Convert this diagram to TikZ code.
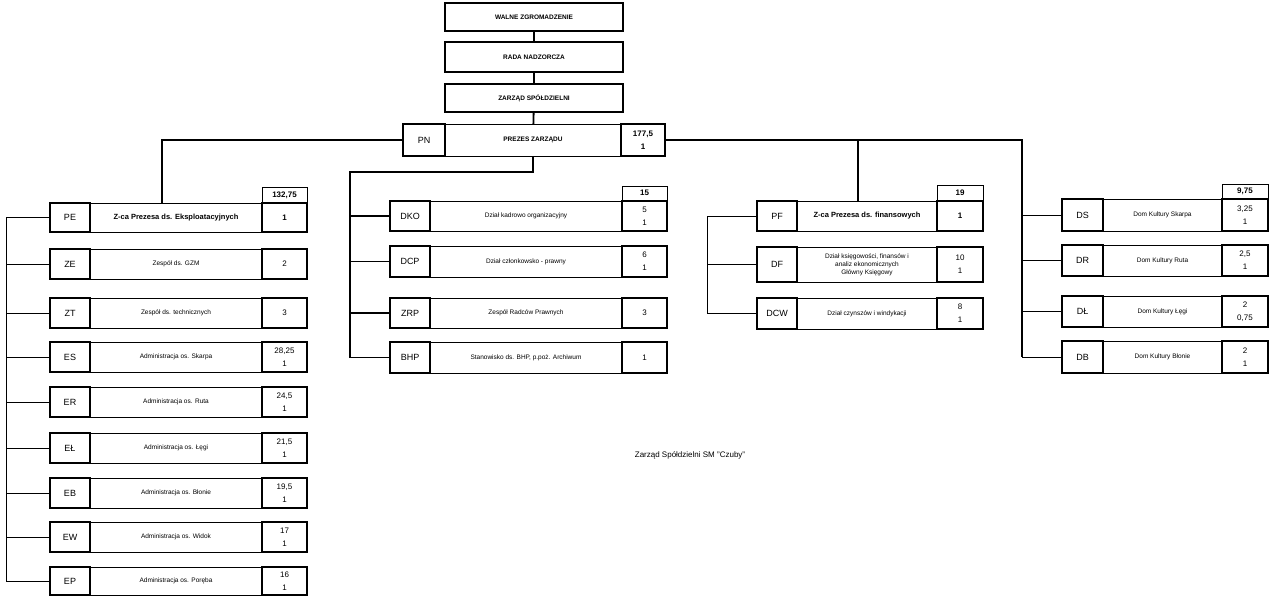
\documentclass[tikz,border=0pt]{standalone}
\usepackage{fontspec}
\setmainfont{Liberation Sans}
\begin{document}
\begin{tikzpicture}[x=1pt,y=-1pt,
  cell/.style={draw,line width=0.8pt,inner sep=0pt,outer sep=0pt,align=center,font=\fontsize{6.5}{8}\selectfont},
  code/.style={cell,line width=1.3pt,font=\fontsize{9}{10}\selectfont},
  val/.style={cell,line width=1.3pt,font=\fontsize{8}{10}\selectfont},
  hdr/.style={cell,line width=0.6pt,font=\fontsize{8}{9}\selectfont\bfseries},
  ln/.style={line width=0.6pt},
  lnb/.style={line width=1.8pt}]
\useasboundingbox (0,0) rectangle (1280,596);
\newcommand\orow[9]{%
  \pgfmathsetmacro\cy{(#6+#7)/2}\pgfmathsetmacro\hh{#7-#6}%
  \pgfmathsetmacro\ca{(#2+#3)/2}\pgfmathsetmacro\wa{#3-#2}%
  \pgfmathsetmacro\cb{(#3+#4)/2}\pgfmathsetmacro\wb{#4-#3}%
  \pgfmathsetmacro\cc{(#4+#5)/2}\pgfmathsetmacro\wc{#5-#4}%
  \node[code,minimum width=\wa,minimum height=\hh] (#1-a) at (\ca,\cy) {#8};
  \node[cell,minimum width=\wb,minimum height=\hh] (#1-b) at (\cb,\cy) {#9};
  \node[val,minimum width=\wc,minimum height=\hh] (#1-c) at (\cc,\cy) {\orowval};}
% top
\node[cell,line width=1.2pt,minimum width=178,minimum height=28,font=\fontsize{6.5}{8}\selectfont\bfseries] (WZ) at (534,17) {WALNE ZGROMADZENIE};
\node[cell,line width=1.2pt,minimum width=178,minimum height=30,font=\fontsize{6.5}{8}\selectfont\bfseries] (RN) at (534,57) {RADA NADZORCZA};
\node[cell,line width=1.2pt,minimum width=178,minimum height=28,font=\fontsize{6.5}{8}\selectfont\bfseries] (ZS) at (534,98) {ZARZĄD SPÓŁDZIELNI};
\draw[lnb] (WZ) -- (RN); \draw[lnb] (RN) -- (ZS);
% PN
\def\orowval{\bfseries 177,5\\[3pt]\bfseries 1}
\orow{PN}{403}{445}{621}{665}{124}{156}{PN}{\bfseries PREZES ZARZĄDU}
\draw[lnb] (ZS) -- (PN-b);
% left column
\node[hdr,minimum width=45,minimum height=15] (H1) at (284.5,195) {132,75};
\def\orowval{\bfseries 1}
\orow{PE}{50}{90}{262}{307}{203}{232}{PE}{\fontsize{7.5}{9}\selectfont\bfseries Z-ca Prezesa ds. Eksploatacyjnych}
\def\orowval{2}\orow{ZE}{50}{90}{262}{307}{249}{279}{ZE}{Zespół ds. GZM}
\def\orowval{3}\orow{ZT}{50}{90}{262}{307}{298}{328}{ZT}{Zespół ds. technicznych}
\def\orowval{28,25\\[3pt]1}\orow{ES}{50}{90}{262}{307}{342}{372}{ES}{Administracja os. Skarpa}
\def\orowval{24,5\\[3pt]1}\orow{ER}{50}{90}{262}{307}{387}{417}{ER}{Administracja os. Ruta}
\def\orowval{21,5\\[3pt]1}\orow{EL}{50}{90}{262}{307}{433}{463}{EŁ}{Administracja os. Łęgi}
\def\orowval{19,5\\[3pt]1}\orow{EB}{50}{90}{262}{307}{478}{508}{EB}{Administracja os. Błonie}
\def\orowval{17\\[3pt]1}\orow{EW}{50}{90}{262}{307}{522}{552}{EW}{Administracja os. Widok}
\def\orowval{16\\[3pt]1}\orow{EP}{50}{90}{262}{307}{567}{595}{EP}{Administracja os. Poręba}
\coordinate (LT) at (162,203);
\draw[lnb] (PN-a.west) -| (LT);
\coordinate (L) at (6,0);
\draw[ln] (PE-a.west) -- (PE-a.west -| L) -- (EP-a.west -| L) -- (EP-a.west);
\foreach \r in {ZE,ZT,ES,ER,EL,EB,EW}{\draw[ln] (\r-a.west -| L) -- (\r-a.west);}
% middle column
\node[hdr,minimum width=45,minimum height=14] (H2) at (644.5,193) {15};
\def\orowval{5\\[3pt]1}\orow{DKO}{390}{430}{622}{667}{201}{231}{DKO}{Dział kadrowo organizacyjny}
\def\orowval{6\\[3pt]1}\orow{DCP}{390}{430}{622}{667}{246}{277}{DCP}{Dział członkowsko - prawny}
\def\orowval{3}\orow{ZRP}{390}{430}{622}{667}{298}{328}{ZRP}{Zespół Radców Prawnych}
\def\orowval{1}\orow{BHP}{390}{430}{622}{667}{342}{373}{BHP}{Stanowisko ds. BHP, p.poż. Archiwum}
\coordinate (M) at (350,0);
\draw[lnb] (PN-b.south) -- ++(0,16) coordinate (m1) -- (m1 -| M) -- (BHP-a.west -| M) -- (BHP-a.west);
\foreach \r in {DKO,DCP,ZRP}{\draw[lnb] (\r-a.west -| M) -- (\r-a.west);}
% PF column
\node[hdr,minimum width=46,minimum height=15] (H3) at (960,192.5) {19};
\def\orowval{\bfseries 1}
\orow{PF}{757}{797}{937}{983}{201}{231}{PF}{\fontsize{7.5}{9}\selectfont\bfseries Z-ca Prezesa ds. finansowych}
\def\orowval{10\\[3pt]1}\orow{DF}{757}{797}{937}{983}{247}{282}{DF}{Dział księgowości, finansów i\\analiz ekonomicznych\\Główny Księgowy}
\def\orowval{8\\[3pt]1}\orow{DCW}{757}{797}{937}{983}{298}{329}{DCW}{Dział czynszów i windykacji}
\coordinate (P) at (707,0);
\draw[ln] (PF-a.west) -- (PF-a.west -| P) -- (DCW-a.west -| P) -- (DCW-a.west);
\draw[ln] (DF-a.west -| P) -- (DF-a.west);
% right column
\node[hdr,minimum width=46,minimum height=15] (H4) at (1245,191.5) {9,75};
\def\orowval{3,25\\[3pt]1}\orow{DS}{1062}{1103}{1222}{1268}{199}{231}{DS}{Dom Kultury Skarpa}
\def\orowval{2,5\\[3pt]1}\orow{DR}{1062}{1103}{1222}{1268}{245}{276}{DR}{Dom Kultury Ruta}
\def\orowval{2\\[3pt]0,75}\orow{DL}{1062}{1103}{1222}{1268}{296}{327}{DŁ}{Dom Kultury Łęgi}
\def\orowval{2\\[3pt]1}\orow{DB}{1062}{1103}{1222}{1268}{341}{373}{DB}{Dom Kultury Błonie}
\coordinate (R) at (1022,0);
\coordinate (F) at (858,0);
\draw[lnb] (PN-c.east) -- (PN-c.east -| R) -- (DB-a.west -| R);
\draw[lnb] (PN-c.east -| F) -- (PF-b.north -| F);
\foreach \r in {DS,DR,DL,DB}{\draw[ln] (\r-a.west -| R) -- (\r-a.west);}
\node[font=\fontsize{8}{10}\selectfont] (cap) at (690,455) {Zarząd Spółdzielni SM "Czuby"};
\end{tikzpicture}
\end{document}
